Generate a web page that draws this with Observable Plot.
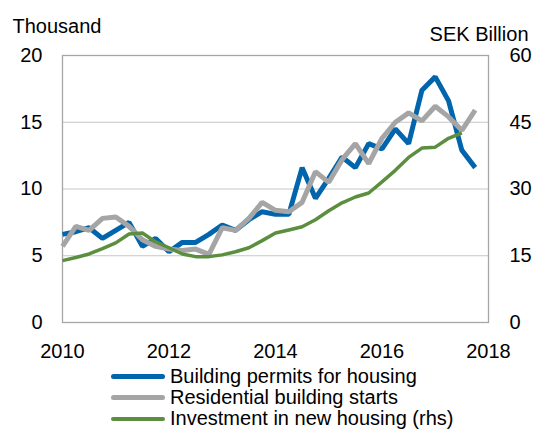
<!DOCTYPE html>
<html>
<head>
<meta charset="utf-8">
<script src="https://cdn.jsdelivr.net/npm/d3@7"></script>
<script src="https://cdn.jsdelivr.net/npm/@observablehq/plot@0.6"></script>
<style>
  html, body { margin: 0; padding: 0; background: #fff; }
  body { width: 535px; height: 430px; font-family: "Liberation Sans", Arial, sans-serif; }
  #legend { margin-top: 4px; font-size: 20px; line-height: 21px; color: #000; }
  .row { display: flex; align-items: center; height: 21px; }
  .sw { margin-left: 111px; width: 54px; border-radius: 3px; margin-right: 5px; }
</style>
</head>
<body>
<div id="chart"></div>
<div id="legend"></div>
<script>
const quarters = [
  "2010Q1","2010Q2","2010Q3","2010Q4","2011Q1","2011Q2","2011Q3","2011Q4",
  "2012Q1","2012Q2","2012Q3","2012Q4","2013Q1","2013Q2","2013Q3","2013Q4",
  "2014Q1","2014Q2","2014Q3","2014Q4","2015Q1","2015Q2","2015Q3","2015Q4",
  "2016Q1","2016Q2","2016Q3","2016Q4","2017Q1","2017Q2","2017Q3","2017Q4"
];
// Thousand (left axis)
const permits = [6.6,6.8,7.1,6.3,6.9,7.5,5.7,6.3,5.3,6.0,6.0,6.6,7.3,6.9,7.7,8.3,8.1,8.1,11.6,9.3,10.8,12.4,11.6,13.4,13.0,14.5,13.4,17.4,18.4,16.6,12.9,11.6];
const starts  = [5.7,7.2,6.9,7.8,7.9,7.2,6.2,5.7,5.5,5.4,5.5,5.1,7.1,6.9,7.8,9.0,8.4,8.3,9.0,11.3,10.5,12.2,13.4,11.9,13.8,15.0,15.7,15.1,16.2,15.4,14.4,15.9];
// SEK Billion (right axis)
const investment = [13.9,14.6,15.4,16.6,17.9,19.9,20.1,18.1,16.8,15.4,14.8,14.8,15.2,15.9,16.8,18.4,20.1,20.8,21.5,23.1,25.1,26.9,28.2,29.1,31.6,34.2,37.1,39.2,39.4,41.4,42.6];

const xTicks = [2010, 2012, 2014, 2016, 2018];
const yTicksLeft = [0, 5, 10, 15, 20];
const rhsFactor = 3; // 60 SEK bn on right = 20 thousand on left

const seriesNames = ["Building permits for housing", "Residential building starts", "Investment in new housing (rhs)"];
const colors = ["#0065AC", "#A5A5A5", "#5B8F3F"];

const toYear = q => +q.slice(0, 4) + (+q.slice(5) - 1) / 4;

const permitsData = permits.map((v, i) => ({x: toYear(quarters[i]), v}));
const startsData = starts.map((v, i) => ({x: toYear(quarters[i]), v}));
const investData = investment.map((v, i) => ({x: toYear(quarters[i]), v}));

const chart = Plot.plot({
  width: 535,
  height: 362,
  marginLeft: 62,
  marginRight: 47,
  marginTop: 55,
  marginBottom: 40,
  style: {fontFamily: "Liberation Sans, Arial, sans-serif", fontSize: "20px", background: "#fff", color: "#000", overflow: "visible"},
  x: {domain: [2010, 2018]},
  y: {domain: [0, 20]},
  marks: [
    Plot.ruleY([5, 10, 15], {stroke: "#C6C6C6", strokeWidth: 1}),
    Plot.frame({stroke: "#A6A6A6", strokeWidth: 1.3}),
    Plot.axisX({ticks: xTicks, tickFormat: "d", tickSize: 0, tickPadding: 21, label: null}),
    Plot.axisY({anchor: "left", ticks: yTicksLeft, tickSize: 0, tickPadding: 20, label: null}),
    Plot.axisY({anchor: "right", ticks: yTicksLeft, tickFormat: d => d * rhsFactor, tickSize: 0, tickPadding: 21, label: null}),
    Plot.line(permitsData, {x: "x", y: "v", stroke: colors[0], strokeWidth: 5, strokeLinejoin: "miter", strokeLinecap: "butt"}),
    Plot.line(startsData, {x: "x", y: "v", stroke: colors[1], strokeWidth: 5, strokeLinejoin: "miter", strokeLinecap: "butt"}),
    Plot.line(investData, {x: "x", y: d => d.v / rhsFactor, stroke: colors[2], strokeWidth: 3.5, strokeLinejoin: "round", strokeLinecap: "butt"}),
    Plot.text(["Thousand"], {frameAnchor: "top-left", textAnchor: "start", lineAnchor: "bottom", dx: -50, dy: -23, fontSize: 20}),
    Plot.text(["SEK Billion"], {frameAnchor: "top-right", textAnchor: "end", lineAnchor: "bottom", dx: 40, dy: -15, fontSize: 20})
  ]
});
document.getElementById("chart").appendChild(chart);

const legend = document.getElementById("legend");
seriesNames.forEach((name, i) => {
  const row = document.createElement("div");
  row.className = "row";
  const sw = document.createElement("span");
  sw.className = "sw";
  sw.style.background = colors[i];
  sw.style.height = i === 2 ? "4px" : "5px";
  const t = document.createElement("span");
  t.textContent = name;
  row.appendChild(sw);
  row.appendChild(t);
  legend.appendChild(row);
});
</script>
</body>
</html>
